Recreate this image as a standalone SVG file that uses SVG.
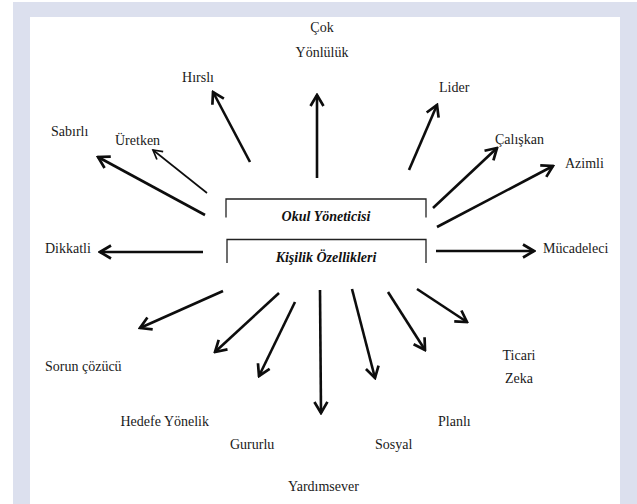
<svg xmlns="http://www.w3.org/2000/svg" width="637" height="504" viewBox="0 0 637 504">
  <style>
    .lbl { font-family: "Liberation Serif", "Times New Roman", serif; font-size: 14px; fill: #1a1a1a; }
    .head { font-family: "Liberation Serif", "Times New Roman", serif; font-size: 14px; font-weight: bold; font-style: italic; fill: #111; text-anchor: middle; }
    .frame { fill: none; stroke: #222; stroke-width: 1.3; }
    .arrow { fill: none; stroke: #0d0d0d; stroke-width: 2.6; marker-end: url(#head); }
    .arrow.thin { stroke-width: 1.6; marker-end: url(#headThin); }
  </style>
  <defs>
    <marker id="head" viewBox="-14 -9 16 18" refX="0" refY="0" markerWidth="16" markerHeight="18" markerUnits="userSpaceOnUse" orient="auto">
      <path d="M-11,-6.5 L0,0 L-11,6.5" fill="none" stroke="#0d0d0d" stroke-width="2.7"/>
    </marker>
    <marker id="headThin" viewBox="-14 -9 16 18" refX="0" refY="0" markerWidth="16" markerHeight="18" markerUnits="userSpaceOnUse" orient="auto">
      <path d="M-9,-5 L0,0 L-9,5" fill="none" stroke="#0d0d0d" stroke-width="1.7"/>
    </marker>
  </defs>

  <!-- page border -->
  <rect x="0" y="0" width="637" height="504" fill="#ffffff"/>
  <rect x="13" y="2" width="624" height="502" fill="#dce0ee"/>
  <rect x="30" y="17" width="590" height="487" fill="#ffffff"/>

  <!-- central title brackets -->
  <g id="okul-yoneticisi">
    <path class="frame" d="M226,217.5 V199 H426 V217.5"/>
    <text class="head" x="326" y="220.5">Okul Yöneticisi</text>
  </g>
  <g id="kisilik-ozellikleri">
    <path class="frame" d="M227,263 V239.5 H426 V263"/>
    <text class="head" x="326" y="262">Kişilik Özellikleri</text>
  </g>

  <!-- trait labels -->
  <g id="cok-yonluluk">
    <text class="lbl" x="322" y="32" text-anchor="middle">Çok</text>
    <text class="lbl" x="322" y="57" text-anchor="middle">Yönlülük</text>
  </g>
  <g id="hirsli"><text class="lbl" x="198" y="82" text-anchor="middle">Hırslı</text></g>
  <g id="lider"><text class="lbl" x="439" y="92">Lider</text></g>
  <g id="uretken"><text class="lbl" x="115" y="145">Üretken</text></g>
  <g id="sabirli"><text class="lbl" x="51" y="136">Sabırlı</text></g>
  <g id="caliskan"><text class="lbl" x="495" y="144">Çalışkan</text></g>
  <g id="azimli"><text class="lbl" x="565" y="168">Azimli</text></g>
  <g id="dikkatli"><text class="lbl" x="45" y="253">Dikkatli</text></g>
  <g id="mucadeleci"><text class="lbl" x="543" y="253">Mücadeleci</text></g>
  <g id="sorun-cozucu"><text class="lbl" x="45" y="371">Sorun çözücü</text></g>
  <g id="ticari-zeka">
    <text class="lbl" x="519" y="360" text-anchor="middle">Ticari</text>
    <text class="lbl" x="519" y="383" text-anchor="middle">Zeka</text>
  </g>
  <g id="hedefe-yonelik"><text class="lbl" x="209" y="426" text-anchor="end">Hedefe Yönelik</text></g>
  <g id="planli"><text class="lbl" x="438" y="426">Planlı</text></g>
  <g id="gururlu"><text class="lbl" x="230" y="449">Gururlu</text></g>
  <g id="sosyal"><text class="lbl" x="375" y="449">Sosyal</text></g>
  <g id="yardimsever"><text class="lbl" x="288" y="491">Yardımsever</text></g>

  <!-- connectors -->
  <g id="connectors">
    <line class="arrow" x1="205" y1="215" x2="98" y2="157"/>
    <line class="arrow thin" x1="207" y1="193" x2="153" y2="150"/>
    <line class="arrow" x1="250" y1="162" x2="213" y2="92"/>
    <line class="arrow" x1="317" y1="178" x2="317" y2="95"/>
    <line class="arrow" x1="409" y1="170" x2="437" y2="105"/>
    <line class="arrow" x1="433" y1="208" x2="497" y2="148"/>
    <line class="arrow" x1="437" y1="227" x2="553" y2="166"/>
    <line class="arrow" x1="436" y1="251" x2="534" y2="251"/>
    <line class="arrow" x1="203" y1="252" x2="100" y2="252"/>
    <line class="arrow" x1="223" y1="291" x2="140" y2="328"/>
    <line class="arrow" x1="279" y1="293" x2="215" y2="352"/>
    <line class="arrow" x1="295" y1="302" x2="259" y2="376"/>
    <line class="arrow" x1="320" y1="290" x2="321" y2="413"/>
    <line class="arrow" x1="352" y1="289" x2="375" y2="378"/>
    <line class="arrow" x1="388" y1="292" x2="425" y2="350"/>
    <line class="arrow" x1="417" y1="289" x2="467" y2="322"/>
  </g>
</svg>
